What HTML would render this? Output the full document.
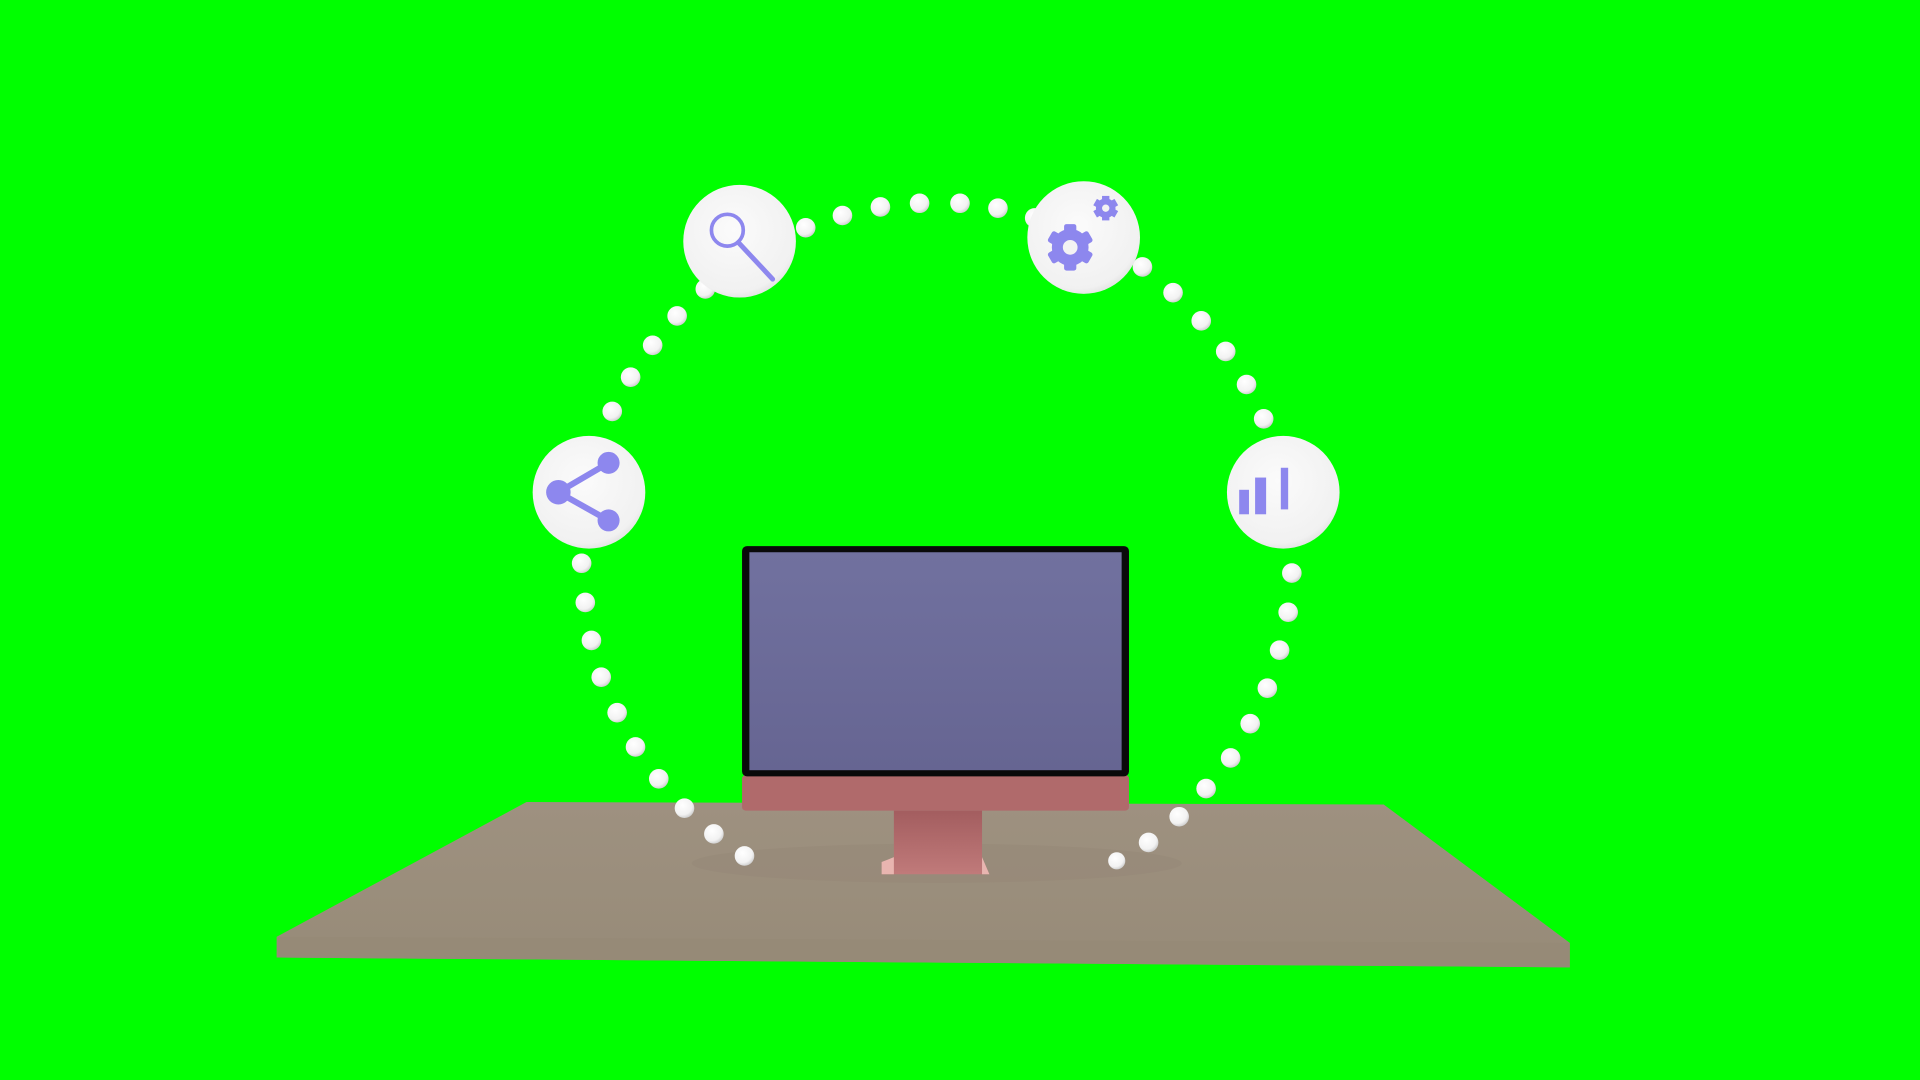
<!DOCTYPE html>
<html><head><meta charset="utf-8"><style>html,body{margin:0;padding:0;background:#00ff00;overflow:hidden}svg{display:block}</style></head>
<body>
<svg width="1920" height="1080" viewBox="0 0 1568 882" xmlns="http://www.w3.org/2000/svg">
<defs>
<radialGradient id="dot" cx="40%" cy="35%" r="70%"><stop offset="0" stop-color="#ffffff"/><stop offset="0.7" stop-color="#f2f2f2"/><stop offset="1" stop-color="#c8c8c8"/></radialGradient>
<radialGradient id="circ" cx="45%" cy="40%" r="65%"><stop offset="0" stop-color="#fbfbfb"/><stop offset="0.85" stop-color="#f1f1f1"/><stop offset="1" stop-color="#dcdcdc"/></radialGradient>
<linearGradient id="desk" x1="0" y1="0" x2="0" y2="1"><stop offset="0" stop-color="#9e9180"/><stop offset="1" stop-color="#978b78"/></linearGradient>
<linearGradient id="scr" x1="0" y1="0" x2="0" y2="1"><stop offset="0" stop-color="#71719f"/><stop offset="1" stop-color="#666592"/></linearGradient>
<linearGradient id="stand" x1="0" y1="0" x2="0" y2="1"><stop offset="0" stop-color="#a35d5f"/><stop offset="1" stop-color="#c07a7a"/></linearGradient>
</defs>
<rect width="1568" height="882" fill="#00ff00"/>
<polygon points="430,655 1130,657 1282,770 1282,790 226,782 226,765" fill="url(#desk)"/>
<polygon points="226,765 1282,770 1282,790 226,782" fill="#968a77"/>
<ellipse cx="765" cy="705" rx="200" ry="16" fill="#8a7f6d" opacity="0.2"/>
<!-- stand -->
<polygon points="730,662 802,662 802,700 808,714 720,714 730,700" fill="url(#stand)"/>
<polygon points="720,704 730,700 730,714 720,714" fill="#e8b5b0"/>
<polygon points="802,700 808,714 802,714" fill="#e8b5b0"/>
<!-- monitor -->
<rect x="606" y="633" width="316" height="29" rx="3" fill="#b06a6b"/>
<rect x="606" y="446" width="316" height="188" rx="4" fill="#0a0a0a"/>
<rect x="612" y="451" width="304" height="178" fill="url(#scr)"/>
<!-- dots -->
<g fill="url(#dot)">
<circle cx="658" cy="186" r="8"/><circle cx="688" cy="176" r="8"/><circle cx="719" cy="169" r="8"/><circle cx="751" cy="166" r="8"/><circle cx="784" cy="166" r="8"/><circle cx="815" cy="170" r="8"/><circle cx="845" cy="178" r="8"/>
<circle cx="933" cy="218" r="8"/><circle cx="958" cy="239" r="8"/><circle cx="981" cy="262" r="8"/><circle cx="1001" cy="287" r="8"/><circle cx="1018" cy="314" r="8"/><circle cx="1032" cy="342" r="8"/>
<circle cx="576" cy="236" r="8"/><circle cx="553" cy="258" r="8"/><circle cx="533" cy="282" r="8"/><circle cx="515" cy="308" r="8"/><circle cx="500" cy="336" r="8"/>
<circle cx="475" cy="460" r="8"/><circle cx="478" cy="492" r="8"/><circle cx="483" cy="523" r="8"/><circle cx="491" cy="553" r="8"/><circle cx="504" cy="582" r="8"/><circle cx="519" cy="610" r="8"/><circle cx="538" cy="636" r="8"/><circle cx="559" cy="660" r="8"/><circle cx="583" cy="681" r="8"/><circle cx="608" cy="699" r="8"/>
<circle cx="1055" cy="468" r="8"/><circle cx="1052" cy="500" r="8"/><circle cx="1045" cy="531" r="8"/><circle cx="1035" cy="562" r="8"/><circle cx="1021" cy="591" r="8"/><circle cx="1005" cy="619" r="8"/><circle cx="985" cy="644" r="8"/><circle cx="963" cy="667" r="8"/><circle cx="938" cy="688" r="8"/><circle cx="912" cy="703" r="7"/>
</g>
<!-- icon circles -->
<circle cx="604" cy="197" r="46" fill="url(#circ)"/>
<circle cx="885" cy="194" r="46" fill="url(#circ)"/>
<circle cx="481" cy="402" r="46" fill="url(#circ)"/>
<circle cx="1048" cy="402" r="46" fill="url(#circ)"/>
<g stroke="#8d87ee" fill="none">
<circle cx="594" cy="188" r="13" stroke-width="3"/>
<line x1="603" y1="198" x2="631" y2="228" stroke-width="4" stroke-linecap="round"/>
<line x1="456" y1="402" x2="497" y2="378" stroke-width="5"/>
<line x1="456" y1="402" x2="497" y2="425" stroke-width="5"/>
</g>
<g fill="#8d87ee">
<circle cx="456" cy="402" r="10"/><circle cx="497" cy="378" r="9"/><circle cx="497" cy="425" r="9"/>
<rect x="1012" y="400" width="8" height="20"/><rect x="1025" y="390" width="9" height="30"/><rect x="1046" y="382" width="6" height="34"/>
<circle cx="874" cy="202" r="15"/>
<g transform="translate(874 202)"><rect x="-5" y="-19" width="10" height="38" rx="2"/><rect x="-5" y="-19" width="10" height="38" rx="2" transform="rotate(60)"/><rect x="-5" y="-19" width="10" height="38" rx="2" transform="rotate(120)"/></g>
<circle cx="903" cy="170" r="8"/>
<g transform="translate(903 170)"><rect x="-3" y="-10" width="6" height="20"/><rect x="-3" y="-10" width="6" height="20" transform="rotate(60)"/><rect x="-3" y="-10" width="6" height="20" transform="rotate(120)"/></g>
</g>
<circle cx="874" cy="202" r="6" fill="#f3f3f3"/>
<circle cx="903" cy="170" r="3" fill="#f3f3f3"/>
</svg>
</body></html>
